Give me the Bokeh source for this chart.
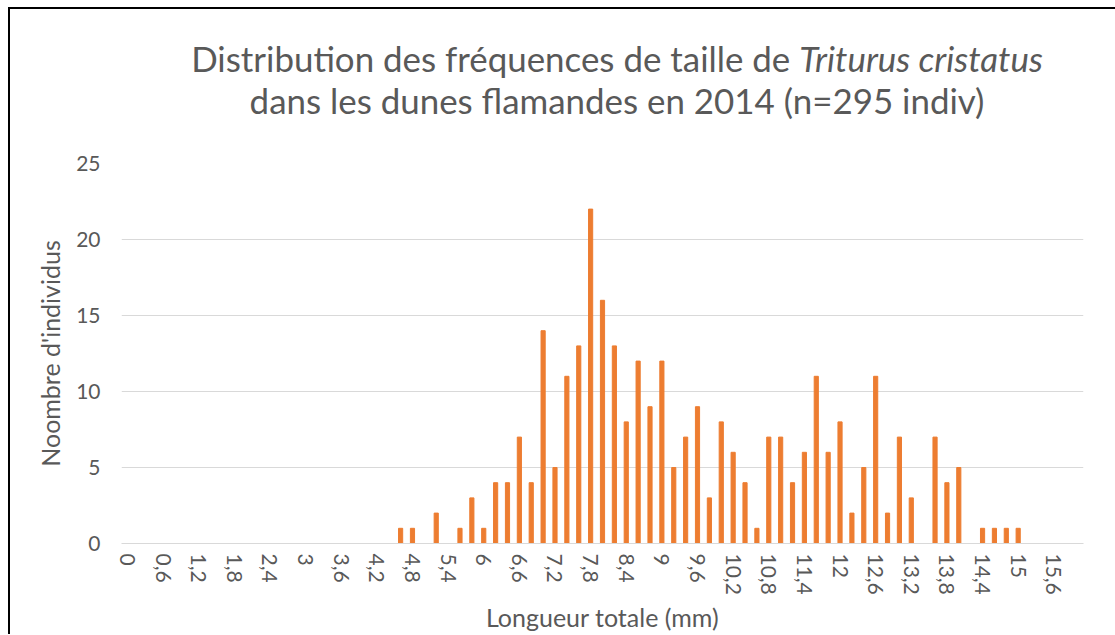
from bokeh.plotting import figure
from bokeh.models import FixedTicker, Div
from bokeh.layouts import column, row
from bokeh.embed import file_html
from bokeh.resources import INLINE

# Data
lengths = [4.6, 4.8, 5.2, 5.6, 5.8, 6.0, 6.2, 6.4, 6.6, 6.8, 7.0, 7.2, 7.4, 7.6, 7.8,
           8.0, 8.2, 8.4, 8.6, 8.8, 9.0, 9.2, 9.4, 9.6, 9.8, 10.0, 10.2, 10.4, 10.6,
           10.8, 11.0, 11.2, 11.4, 11.6, 11.8, 12.0, 12.2, 12.4, 12.6, 12.8, 13.0,
           13.2, 13.6, 13.8, 14.0, 14.4, 14.6, 14.8, 15.0]
counts = [1, 1, 2, 1, 3, 1, 4, 4, 7, 4, 14, 5, 11, 13, 22,
          16, 13, 8, 12, 9, 12, 5, 7, 9, 3, 8, 6, 4, 1,
          7, 7, 4, 6, 11, 6, 8, 2, 5, 11, 2, 7,
          3, 7, 4, 5, 1, 1, 1, 1]
x_ticks = [0, 0.6, 1.2, 1.8, 2.4, 3, 3.6, 4.2, 4.8, 5.4, 6, 6.6, 7.2, 7.8, 8.4, 9,
           9.6, 10.2, 10.8, 11.4, 12, 12.6, 13.2, 13.8, 14.4, 15, 15.6]
x_tick_labels = ["0", "0,6", "1,2", "1,8", "2,4", "3", "3,6", "4,2", "4,8", "5,4", "6",
                 "6,6", "7,2", "7,8", "8,4", "9", "9,6", "10,2", "10,8", "11,4", "12",
                 "12,6", "13,2", "13,8", "14,4", "15", "15,6"]
y_ticks = [0, 5, 10, 15, 20, 25]

title_line1 = "Distribution des fréquences de taille de"
title_species = "Triturus cristatus"
title_line2 = "dans les dunes flamandes en 2014 (n=295 indiv)"

FONT = "Lato"
GREY = "#595959"

W = 1100
title_div = Div(
    text=(f'<div style="box-sizing:border-box;width:1104px;padding-left:110px;padding-top:29px;'
          f'text-align:center;font-family:{FONT};font-size:34.9px;line-height:42px;'
          f'color:{GREY};white-space:nowrap;">'
          f'{title_line1} <i>{title_species}</i><br>{title_line2}</div>'),
    width=W, height=140, margin=0)

p = figure(width=W, height=485, output_backend="svg", toolbar_location=None,
           x_range=(-0.1, 16.1), y_range=(0, 25),
           min_border_left=111, min_border_right=27, min_border_top=14, min_border_bottom=87)
p.outline_line_color = None
p.background_fill_color = "white"
p.border_fill_color = "white"

p.vbar(x=lengths, top=counts, width=0.07, color="#ED7D31")

# axes
p.xaxis.ticker = FixedTicker(ticks=x_ticks)
p.xaxis.major_label_overrides = {t: l for t, l in zip(x_ticks, x_tick_labels)}
p.xaxis.major_label_orientation = "vertical"
p.yaxis.ticker = FixedTicker(ticks=y_ticks)
for ax in (p.xaxis, p.yaxis):
    ax.major_tick_line_color = None
    ax.minor_tick_line_color = None
    ax.major_tick_in = 0
    ax.major_tick_out = 0
    ax.major_label_text_font = FONT
    ax.major_label_text_font_size = "21px"
    ax.major_label_text_color = GREY
    ax.axis_label_text_font = FONT
    ax.axis_label_text_font_size = "25px"
    ax.axis_label_text_color = GREY
    ax.axis_label_text_font_style = "normal"
p.xaxis.axis_line_color = "#d9d9d9"
p.yaxis.axis_line_color = None
p.xaxis.major_label_standoff = 10
p.yaxis.major_label_standoff = 21
p.xaxis.axis_label = "Longueur totale (mm)"
p.yaxis.axis_label = "Noombre d'individus"
p.xaxis.axis_label_standoff = 4
p.yaxis.axis_label_standoff = 8

p.xgrid.grid_line_color = None
p.ygrid.ticker = FixedTicker(ticks=y_ticks)
p.ygrid.grid_line_color = "#d9d9d9"

# chart frame: black lines on the top and left edges
top_bar = Div(text="", width=1107, height=2, margin=0,
              styles={"background-color": "#000000"})
left_bar = Div(text="", width=2, height=625, margin=0,
               styles={"background-color": "#000000"})

inner = column(title_div, p, spacing=0)
layout = column(top_bar, row(left_bar, inner, spacing=0), spacing=0, margin=(7, 0, 0, 8))

open("out.html", "w").write(file_html(layout, INLINE))
